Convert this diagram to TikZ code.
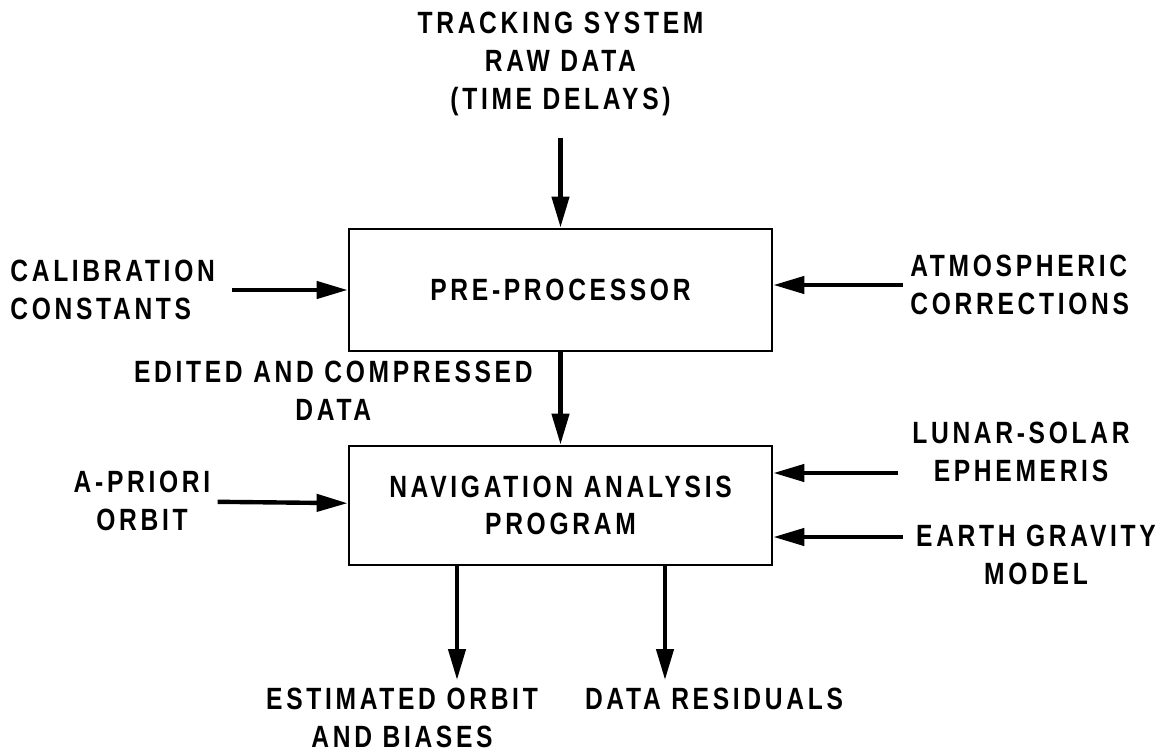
\documentclass[tikz,border=0pt]{standalone}
\usepackage{fontspec}
\setmainfont{Liberation Sans}[FakeStretch=0.8,LetterSpace=12]
\usetikzlibrary{arrows.meta}

\tikzset{
  block/.style={draw, line width=1.6pt, minimum width=8.46cm, align=center, inner sep=0pt},
  txt/.style={align=center, inner sep=4pt},
  flow/.style={line width=2.5pt, -{Triangle[length=0.62cm,width=0.34cm]}},
}

\begin{document}
\begin{tikzpicture}[x=0.02cm, y=-0.02cm, font=\bfseries\fontsize{17.5}{21.5}\selectfont]
	\useasboundingbox (0,0) rectangle (1174,753);
	% the two processing blocks
	\node[block, minimum height=2.44cm] (pre) at (560.5,290) {PRE-PROCESSOR};
	\node[block, minimum height=2.38cm] (nav) at (560.5,505.5) {NAVIGATION ANALYSIS\\PROGRAM};
	% inputs and outputs
	\node[txt] (track) at (560.5,64) {TRACKING SYSTEM\\RAW DATA\\(TIME DELAYS)};
	\node[txt, anchor=west, align=left] (calib) at (3,290) {CALIBRATION\\CONSTANTS};
	\node[txt, anchor=west, align=left] (atmos) at (903,285) {ATMOSPHERIC\\CORRECTIONS};
	\node[txt, anchor=east] (edited) at (540,391) {EDITED AND COMPRESSED\\DATA};
	\node[txt] (apriori) at (142,501) {A-PRIORI\\ORBIT};
	\node[txt] (lunar) at (1021,452) {LUNAR-SOLAR\\EPHEMERIS};
	\node[txt] (earth) at (1036,555) {EARTH GRAVITY\\MODEL};
	\node[txt] (est) at (402,718) {ESTIMATED ORBIT\\AND BIASES};
	\node[txt] (resid) at (714,699) {DATA RESIDUALS};
	\coordinate (lunar in) at (898,473);
	\coordinate (earth in) at (903,537);
	\coordinate (est out) at (457,680);
	\coordinate (resid out) at (665,680);
	% connectors
	\draw[flow, shorten <=0.3cm] (track.south) -- (pre.north);
	\draw[flow, shorten <=0.2cm] (calib) -- (pre);
	\draw[flow] (atmos.west) -- (atmos.west -| pre.east);
	\draw[flow] (pre.south) -- (nav.north);
	\draw[flow] (apriori) -- (nav);
	\draw[flow] (lunar in) -- (lunar in -| nav.east);
	\draw[flow] (earth in) -- (earth in -| nav.east);
	\draw[flow] (est out |- nav.south) -- (est out);
	\draw[flow] (resid out |- nav.south) -- (resid out);
\end{tikzpicture}
\end{document}
